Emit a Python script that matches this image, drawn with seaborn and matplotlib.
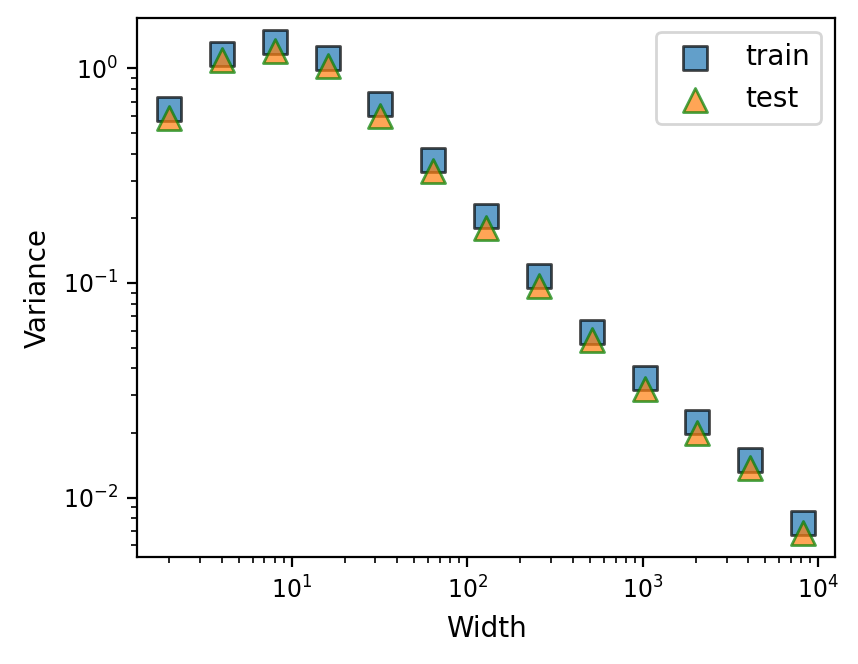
import matplotlib
matplotlib.use("Agg")
import matplotlib.pyplot as plt
import seaborn as sns
import pandas as pd

widths = [2, 4, 8, 16, 32, 64, 128, 256, 512, 1024, 2048, 4096, 8192]
train_var = [0.644, 1.17, 1.32, 1.12, 0.68, 0.372, 0.204, 0.108, 0.0594, 0.0359, 0.0224, 0.0150, 0.00764]
test_var = [0.585, 1.09, 1.21, 1.03, 0.60, 0.334, 0.181, 0.0963, 0.054, 0.032, 0.0201, 0.0137, 0.00687]

df_train = pd.DataFrame({"Width": widths, "Variance": train_var})
df_test = pd.DataFrame({"Width": widths, "Variance": test_var})

fig, ax = plt.subplots(figsize=(4.29, 3.32), dpi=200)
fig.subplots_adjust(left=0.16, right=0.973, top=0.973, bottom=0.161)

sns.scatterplot(data=df_train, x="Width", y="Variance", marker="s", s=75,
                color="tab:blue", edgecolor="black", linewidth=1.0, alpha=0.7,
                label="train", ax=ax)
sns.scatterplot(data=df_test, x="Width", y="Variance", marker="^", s=75,
                color="tab:orange", edgecolor="green", linewidth=1.0, alpha=0.7,
                label="test", ax=ax)

ax.set_xscale("log")
ax.set_yscale("log")
ax.set_xlabel("Width", fontsize=10)
ax.set_ylabel("Variance", fontsize=10)
ax.tick_params(labelsize=8.5)
ax.legend(loc="upper right", fontsize=10)

fig.savefig("out.png", dpi=200)
